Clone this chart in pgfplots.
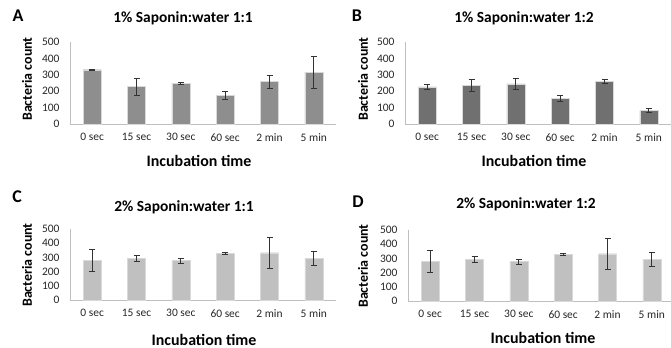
\documentclass[border=0pt]{standalone}
\usepackage{fontspec}
\setmainfont{Carlito}
\usepackage{pgfplots}
\pgfplotsset{compat=1.18}
\definecolor{barA}{HTML}{8E8E8E}
\definecolor{barB}{HTML}{707070}
\definecolor{barC}{HTML}{C0C0C0}
\definecolor{axgray}{HTML}{BFBFBF}
\definecolor{errc}{HTML}{333333}
\pgfplotsset{
  panel/.style={
    scale only axis, width=266bp, height=#1,
    xmin=-0.5, xmax=5.5, ymin=0, ymax=500,
    axis x line=bottom, axis y line=left,
    axis line style={axgray, -, line width=0.8pt},
    major tick length=0,
    xtick={0,...,5},
    xticklabels={0 sec,15 sec,30 sec,60 sec,2 min,5 min},
    ytick={0,100,...,500},
    tick label style={font=\fontsize{11.5}{12}\selectfont, text=black!85},
    xticklabel style={yshift=-6bp},
    yticklabel style={xshift=-7bp},
    /pgf/number format/assume math mode=true,
    ybar, bar width=18bp, bar shift=0pt,
    clip=false,
  },
  bars/.style={
    fill=#1, draw=black!15, line width=0.4pt,
    error bars/.cd, y dir=both, y explicit,
    error bar style={errc, line width=0.7pt},
    error mark options={rotate=90, mark size=3bp, errc, line width=0.7pt},
  },
}
\begin{document}
\begin{tikzpicture}
\useasboundingbox (0bp,0bp) rectangle (671bp,348bp);
% Panel A
\begin{axis}[panel=82bp, at={(70bp,224bp)}, anchor=south west]
\addplot[bars=barA] coordinates {
 (0,331) +- (0,3)
 (1,228) +- (0,51)
 (2,248) +- (0,4)
 (3,176) +- (0,24)
 (4,259) +- (0,40)
 (5,316) +- (0,98)
};
\end{axis}
% Panel B
\begin{axis}[panel=82bp, at={(405bp,224bp)}, anchor=south west]
\addplot[bars=barB] coordinates {
 (0,226) +- (0,16)
 (1,237) +- (0,35)
 (2,244) +- (0,34)
 (3,157) +- (0,19)
 (4,260) +- (0,11)
 (5,82) +- (0,14)
};
\end{axis}
% Panel C
\begin{axis}[panel=71bp, at={(70bp,48bp)}, anchor=south west]
\addplot[bars=barC] coordinates {
 (0,280) +- (0,80)
 (1,291) +- (0,21)
 (2,278) +- (0,18)
 (3,329) +- (0,7)
 (4,333) +- (0,110)
 (5,292) +- (0,48)
};
\end{axis}
% Panel D
\begin{axis}[panel=71bp, at={(408bp,47bp)}, anchor=south west]
\addplot[bars=barC] coordinates {
 (0,280) +- (0,80)
 (1,291) +- (0,21)
 (2,278) +- (0,18)
 (3,329) +- (0,7)
 (4,333) +- (0,110)
 (5,292) +- (0,48)
};
\end{axis}
% Texts
\begin{scope}[x=1bp,y=1bp]
\node[font=\fontsize{18}{19}\bfseries\selectfont] at (18,332) {A};
\node[font=\fontsize{18}{19}\bfseries\selectfont] at (357,332) {B};
\node[font=\fontsize{18}{19}\bfseries\selectfont] at (17,151) {C};
\node[font=\fontsize{18}{19}\bfseries\selectfont] at (358,146) {D};
\node[font=\fontsize{15.5}{16}\bfseries\selectfont] at (183,330) {1\% Saponin:water 1:1};
\node[font=\fontsize{15.5}{16}\bfseries\selectfont] at (524,330) {1\% Saponin:water 1:2};
\node[font=\fontsize{15.5}{16}\bfseries\selectfont] at (184,141) {2\% Saponin:water 1:1};
\node[font=\fontsize{15.5}{16}\bfseries\selectfont] at (526,144) {2\% Saponin:water 1:2};
\node[font=\fontsize{16}{17}\bfseries\selectfont] at (199,187) {Incubation time};
\node[font=\fontsize{16}{17}\bfseries\selectfont] at (534,187) {Incubation time};
\node[font=\fontsize{16}{17}\bfseries\selectfont] at (204,8) {Incubation time};
\node[font=\fontsize{16}{17}\bfseries\selectfont] at (543,10) {Incubation time};
\node[font=\fontsize{14}{15}\bfseries\selectfont, rotate=90] at (27,269) {Bacteria count};
\node[font=\fontsize{14}{15}\bfseries\selectfont, rotate=90] at (363,269) {Bacteria count};
\node[font=\fontsize{14}{15}\bfseries\selectfont, rotate=90] at (27,83) {Bacteria count};
\node[font=\fontsize{14}{15}\bfseries\selectfont, rotate=90] at (363,82) {Bacteria count};
\end{scope}
\end{tikzpicture}
\end{document}
